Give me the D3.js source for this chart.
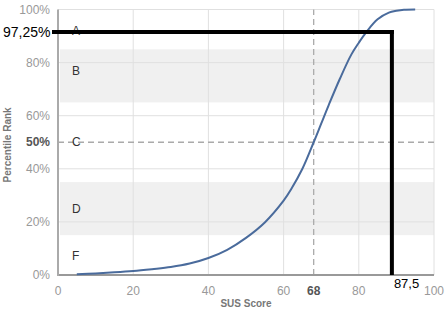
<!DOCTYPE html>
<html><head><meta charset="utf-8">
<script src="https://cdn.jsdelivr.net/npm/d3@7"></script>
<style>body{margin:0;background:#fff}svg{display:block}</style>
</head><body>
<script>
const scores = [5,10,15,20,25,30,35,40,45,50,55,60,62,65,68,70,72,75,78,80,82,85,88,90,92,95];
const percentiles = [0.3,0.6,1.0,1.5,2.2,3.0,4.3,6.4,9.5,14,19.8,28,32.3,40,50,57,64,74,83,87.5,91.5,96.3,98.8,99.5,99.9,100];
const xTicks = [0,20,40,60,80,100];
const yTicks = [0,20,40,60,80,100];
const bands = [[65,85],[15,35]];
const grades = ["A","B","C","D","F"];
const gradePct = [92,77,50,25,7];
const refScore = 68, refPct = 50;
const annotScore = 88.8, annotPct = 91.5;
const annotXLabel = "87,5", annotYLabel = "97,25%";

const W = 445, H = 313;
const svg = d3.select("body").append("svg").attr("width", W).attr("height", H);
const x = d3.scaleLinear().domain([0,100]).range([58,434]);
const y = d3.scaleLinear().domain([0,100]).range([275,9.5]);

// bands
svg.selectAll(".band").data(bands).enter().append("rect")
  .attr("x", x(0)+2).attr("width", x(100)-x(0)-2)
  .attr("y", d => y(d[1])).attr("height", d => y(d[0]) - y(d[1]))
  .attr("fill", "#f0f0f0");

// grid
svg.selectAll(".gy").data(yTicks.filter(d=>d>0)).enter().append("line")
  .attr("x1", x(0)).attr("x2", x(100)).attr("y1", d=>y(d)).attr("y2", d=>y(d))
  .attr("stroke", "#e0e0e0").attr("stroke-width", 1);
svg.selectAll(".gx").data(xTicks.filter(d=>d>0)).enter().append("line")
  .attr("x1", d=>x(d)).attr("x2", d=>x(d)).attr("y1", y(0)).attr("y2", y(100))
  .attr("stroke", "#e0e0e0").attr("stroke-width", 1);

// dashed reference lines
svg.append("line").attr("x1", x(0)).attr("x2", x(100)).attr("y1", y(refPct)).attr("y2", y(refPct))
  .attr("stroke", "#aaa").attr("stroke-width", 1.3).attr("stroke-dasharray", "6,4");
svg.append("line").attr("x1", x(refScore)).attr("x2", x(refScore)).attr("y1", y(0)).attr("y2", y(100))
  .attr("stroke", "#aaa").attr("stroke-width", 1.3).attr("stroke-dasharray", "6,4");

// axes lines
svg.append("line").attr("x1", x(0)).attr("x2", x(100)).attr("y1", y(0)).attr("y2", y(0))
  .attr("stroke", "#999").attr("stroke-width", 2);
svg.append("line").attr("x1", x(0)).attr("x2", x(0)).attr("y1", y(0)+1).attr("y2", y(100))
  .attr("stroke", "#aaa").attr("stroke-width", 2);

// tick labels
const font = "Liberation Sans, Arial, sans-serif";
svg.selectAll(".xt").data(xTicks).enter().append("text")
  .attr("x", d=>x(d)).attr("y", 295).attr("text-anchor", "middle")
  .attr("font-family", font).attr("font-size", 12).attr("fill", "#999").text(d=>d);
svg.append("text").attr("x", x(refScore)).attr("y", 295).attr("text-anchor","middle")
  .attr("font-family", font).attr("font-size", 12).attr("font-weight","bold").attr("fill","#555").text(refScore);
svg.selectAll(".yt").data(yTicks).enter().append("text")
  .attr("x", 50).attr("y", d=>y(d)+4).attr("text-anchor", "end")
  .attr("font-family", font).attr("font-size", 12).attr("fill", "#999").text(d=>d+"%");
svg.append("text").attr("x", 50).attr("y", y(refPct)+4).attr("text-anchor","end")
  .attr("font-family", font).attr("font-size", 12).attr("font-weight","bold").attr("fill","#555").text(refPct+"%");

// axis titles
svg.append("text").attr("x", x(50)).attr("y", 307).attr("text-anchor","middle")
  .attr("font-family", font).attr("font-size", 10).attr("font-weight","bold").attr("fill","#777").text("SUS Score");
svg.append("text").attr("transform", "translate(11," + y(49) + ") rotate(-90)").attr("text-anchor","middle")
  .attr("font-family", font).attr("font-size", 10).attr("font-weight","bold").attr("fill","#777").text("Percentile Rank");

// grade letters
svg.selectAll(".gl").data(grades).enter().append("text")
  .attr("x", 72).attr("y", (d,i)=>y(gradePct[i])+4)
  .attr("font-family", font).attr("font-size", 12).attr("fill", "#333").text(d=>d);

// curve
const pts = scores.map((s,i)=>[s, percentiles[i]]);
svg.append("path").datum(pts)
  .attr("d", d3.line().x(d=>x(d[0])).y(d=>y(d[1])).curve(d3.curveCatmullRom.alpha(0.5)))
  .attr("fill","none").attr("stroke","#4a6b9c").attr("stroke-width",2);

// annotation
svg.append("line").attr("x1", 52).attr("x2", x(annotScore)+2).attr("y1", y(annotPct)).attr("y2", y(annotPct))
  .attr("stroke","#000").attr("stroke-width",4);
svg.append("line").attr("x1", x(annotScore)).attr("x2", x(annotScore)).attr("y1", y(annotPct)-2).attr("y2", y(0))
  .attr("stroke","#000").attr("stroke-width",4);
svg.append("text").attr("x", 3).attr("y", y(annotPct)+5)
  .attr("font-family", "Liberation Sans, sans-serif").attr("font-size", 14).attr("fill","#000").text(annotYLabel);
svg.append("text").attr("x", x(annotScore)+2).attr("y", 288)
  .attr("font-family", "Liberation Sans, sans-serif").attr("font-size", 13).attr("fill","#000").text(annotXLabel);
</script>
</body></html>
